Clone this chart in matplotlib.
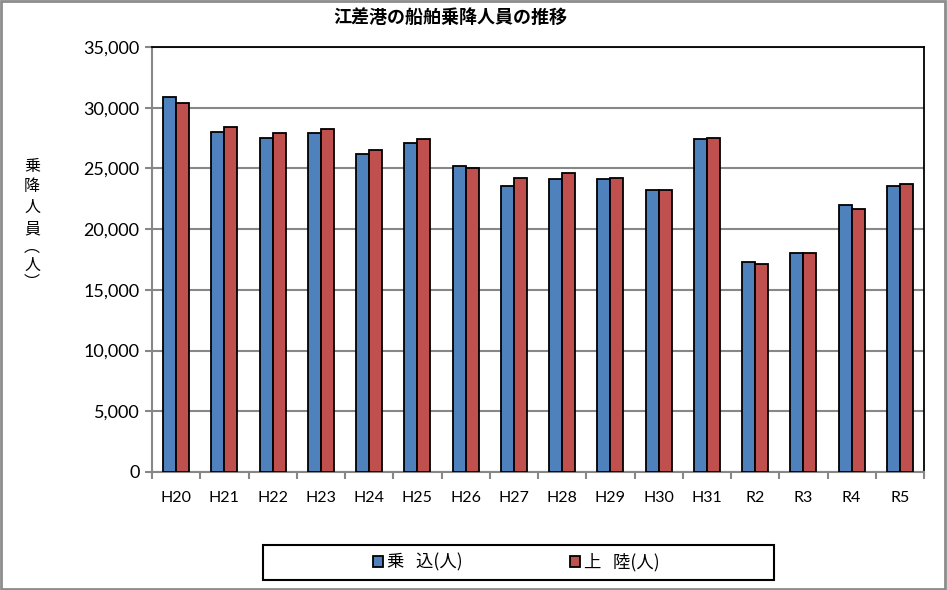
import matplotlib
matplotlib.use("Agg")
import numpy as np
import matplotlib.pyplot as plt
from matplotlib.patches import Rectangle
from matplotlib.ticker import FuncFormatter, FixedLocator

# ---- data ----
years    = ["H20", "H21", "H22", "H23", "H24", "H25", "H26", "H27",
            "H28", "H29", "H30", "H31", "R2", "R3", "R4", "R5"]
boarding = [30900, 28030, 27530, 27890, 26210, 27070, 25230, 23580,
            24130, 24160, 23250, 27450, 17320, 18060, 22010, 23580]
landing  = [30410, 28440, 27940, 28250, 26540, 27420, 25060, 24240,
            24650, 24240, 23250, 27530, 17150, 18060, 21690, 23740]
series_names = ["乗   込(人)", "上   陸(人)"]
title = "江差港の船舶乗降人員の推移"
ylabel_chars = ["乗", "降", "人", "員", "\ufe35", "人", "\ufe36"]
# ----------------

JP = ["Noto Sans CJK JP", "DejaVu Sans"]
NUM = ["Lato", "DejaVu Sans"]
BLUE, RED = "#4F81BD", "#C0504D"
GRID = "#878787"

fig = plt.figure(figsize=(9.47, 5.90), dpi=100)
ax = fig.add_axes([152 / 947, 1 - 472 / 590, (924 - 152) / 947, (472 - 47) / 590])

x = np.arange(len(years))
w = 0.27
ax.bar(x - w / 2, boarding, w, color=BLUE, edgecolor="black", linewidth=1.3,
       label=series_names[0], zorder=3)
ax.bar(x + w / 2, landing, w, color=RED, edgecolor="black", linewidth=1.3,
       label=series_names[1], zorder=3)

ax.set_xlim(-0.5, len(years) - 0.5)
ax.set_ylim(0, 35000)
ax.set_yticks(np.arange(0, 35001, 5000))
ax.yaxis.set_major_formatter(FuncFormatter(lambda v, p: f"{int(v):,}"))
ax.yaxis.grid(True, color=GRID, linewidth=1.5, zorder=0)

ax.set_xticks(x)
ax.set_xticklabels(years)
ax.xaxis.set_minor_locator(FixedLocator(np.arange(-0.5, len(years), 1.0)))
ax.tick_params(axis="x", which="major", length=0, pad=14)
ax.tick_params(axis="x", which="minor", length=5, color=GRID, width=1.5)
ax.tick_params(axis="y", length=5, color=GRID, width=1.5, pad=4)

for lbl in ax.get_xticklabels() + ax.get_yticklabels():
    lbl.set_fontfamily(NUM)
for lbl in ax.get_yticklabels():
    lbl.set_fontsize(13)
for lbl in ax.get_xticklabels():
    lbl.set_fontsize(11.5)

for side in ("left", "bottom"):
    ax.spines[side].set_color(GRID)
    ax.spines[side].set_linewidth(1.5)
for side in ("top", "right"):
    ax.spines[side].set_color("black")
    ax.spines[side].set_linewidth(1.3)

fig.text(450 / 947, 1 - 17 / 590, title, ha="center", va="center",
         fontsize=13, fontweight="bold", family=JP)

# vertical y label, one character per line (parens are compact vertical forms)
ypos = [166, 186, 207, 229, 247, 265, 283]
for ch, yp in zip(ylabel_chars, ypos):
    fig.text(32 / 947, 1 - yp / 590, ch, ha="center", va="center",
             fontsize=11.5, family=JP)

# legend
fig.patches.append(Rectangle((263 / 947, 1 - 580 / 590), 511 / 947, 35 / 590,
                             transform=fig.transFigure, fill=False,
                             edgecolor="black", linewidth=1.5))
fig.legend(loc="center", bbox_to_anchor=(516 / 947, 1 - 562 / 590), ncol=2,
           frameon=False, prop={"family": JP, "size": 12.5}, handlelength=0.6,
           handleheight=0.6, handletextpad=0.2, columnspacing=6.2)

# outer border
fig.patches.append(Rectangle((0.001, 0.002), 0.997, 0.996, transform=fig.transFigure,
                             fill=False, edgecolor="#8c8c8c", linewidth=2))

fig.savefig("out.png", dpi=100)
